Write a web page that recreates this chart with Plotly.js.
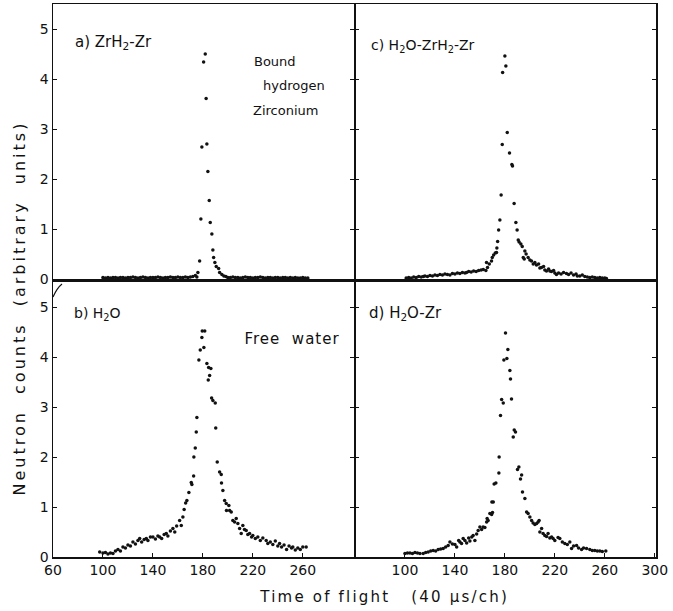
<!DOCTYPE html>
<html>
<head>
<meta charset="utf-8">
<script src="https://cdn.plot.ly/plotly-3.0.1.min.js"></script>
<style>html,body{margin:0;padding:0;background:#fff;}#chart{width:673px;height:611px;}</style>
</head>
<body>
<div id="chart"></div>
<script>
// Panel a) ZrH2-Zr
const aX = [100,102,104,106,108,110,112,114,116,118,120,122,124,126,128,130,132,134,136,138,140,142,144,146,148,150,152,154,156,158,160,162,164,166,168,170,172,174,
  175.2,176,177.4,178.4,179.2,180.6,181.9,182.6,183.2,184,185.1,185.9,187.2,188,188.6,189.6,190.7,192.6,193.4,195.2,196.8,198.4,
  200,202,204,206,208,210,212,214,216,218,220,222,224,226,228,230,232,234,236,238,240,242,244,246,248,250,252,254,256,258,260,262,264];
const aY = [0.03,0.02,0.03,0.02,0.03,0.03,0.02,0.03,0.03,0.02,0.03,0.03,0.04,0.03,0.02,0.03,0.04,0.03,0.02,0.03,0.03,0.03,0.04,0.03,0.02,0.03,0.03,0.04,0.03,0.03,0.04,0.03,0.03,0.04,0.03,0.04,0.05,0.07,
  0.04,0.13,0.36,1.20,2.64,4.34,4.50,3.61,2.70,2.15,1.57,1.13,0.90,0.58,0.43,0.33,0.25,0.21,0.13,0.09,0.06,0.05,
  0.03,0.03,0.04,0.03,0.03,0.02,0.03,0.04,0.03,0.03,0.02,0.03,0.03,0.04,0.03,0.02,0.03,0.03,0.02,0.03,0.03,0.02,0.03,0.03,0.02,0.03,0.02,0.03,0.02,0.02,0.03,0.02,0.02];

// Panel b) H2O
const bX = [97.4,100,102,104,106,108,110,112,114,116,118,120,122,124,126,128,129.4,131,133,134.7,136,138,140,142,144,145.4,147,149,150.7,152,154,156,157.5,159,161.4,162.7,164,165,166.2,167.2,168.8,170.7,171.2,172.6,172.8,173.9,174.7,175.2,
  176.8,177.9,179.2,179.5,180.8,181.5,183.2,184.3,184.6,185.4,186.4,187,188,189.9,190.3,191.5,193.4,194.7,194.9,196,197.4,198.7,198.9,200.8,201.4,202.7,204,205.4,206.7,208,209.4,210.7,212,213.3,214.7,216,217.4,219,220,222,224,226,228,230.7,232,234,236,238,240,241.4,243,245,247,249,251,252,254,256,258,260,262.7];
const bY = [0.10,0.08,0.09,0.06,0.08,0.07,0.12,0.15,0.12,0.20,0.18,0.24,0.22,0.30,0.26,0.33,0.37,0.30,0.35,0.37,0.33,0.40,0.40,0.36,0.42,0.40,0.37,0.45,0.47,0.42,0.52,0.57,0.50,0.62,0.73,0.63,0.80,0.95,1.08,1.13,1.29,1.49,1.45,1.62,2.00,2.18,2.50,2.79,
  3.94,4.14,4.39,4.52,4.19,4.52,3.87,3.54,3.79,3.63,3.77,3.18,3.13,3.08,2.58,1.90,1.70,1.65,1.48,1.33,1.13,1.07,0.93,1.03,0.93,0.90,0.73,0.70,0.77,0.67,0.57,0.47,0.63,0.55,0.53,0.45,0.47,0.40,0.43,0.37,0.40,0.33,0.38,0.33,0.27,0.30,0.25,0.32,0.22,0.27,0.20,0.24,0.15,0.22,0.18,0.20,0.14,0.18,0.15,0.20,0.20];

// Panel c) H2O-ZrH2-Zr
const cX = [101,103,105,107,109,111,113,114.7,116,118,120,122,124,126,128,130,132,134,136,138,140,142,144,146,148,149.3,151,153,155,157,159,161,162.7,164.8,165.3,166.1,167.5,169.3,169.9,171,172.3,173.3,173.6,174.2,175,176,177,177.9,178.2,
  180,180.8,181.9,183.7,185.6,186.1,187.4,188.8,189.8,190.7,191.4,192.8,193.9,194.7,195.5,196,197,198.6,200,201.3,202.7,204,205.3,207,208,209.3,211,212,213.3,215,216,217.3,219,220,221.3,223,225,227,229.3,231,233,235,237,238,240,242,244,246,248,250,252,254,256,258,260,261.3];
const cY = [0.02,0.03,0.02,0.04,0.03,0.05,0.04,0.05,0.06,0.05,0.07,0.06,0.08,0.07,0.09,0.08,0.10,0.09,0.08,0.11,0.10,0.12,0.11,0.13,0.12,0.13,0.15,0.14,0.16,0.15,0.17,0.18,0.19,0.17,0.33,0.23,0.30,0.36,0.43,0.48,0.52,0.53,0.62,0.75,0.98,1.18,1.68,2.69,4.13,
  4.46,4.26,2.93,2.52,2.29,2.26,1.51,1.13,0.98,0.78,0.74,0.70,0.65,0.43,0.40,0.56,0.50,0.43,0.38,0.36,0.30,0.33,0.28,0.30,0.22,0.23,0.25,0.18,0.16,0.20,0.16,0.15,0.17,0.12,0.09,0.12,0.10,0.13,0.11,0.09,0.12,0.08,0.10,0.06,0.06,0.08,0.05,0.04,0.03,0.04,0.03,0.02,0.03,0.02,0.02,0.01];

// Panel d) H2O-Zr
const dX = [100,102,104,106,108,110,112,114.6,116.6,118.6,120.6,122.6,124.6,126.6,128.6,130.6,132.6,134.6,136,138,140,141.4,143,144,145.3,146.6,148,149.4,151,152,153.5,154.6,156,157.4,158.6,160,161.4,162.6,164,165.4,165.8,166.6,168,169.4,169.6,170.1,170.7,171.4,172.8,175.2,175.4,176.5,177.4,178.7,179.2,
  180.5,181.6,182.4,184,184.5,185.3,186.7,187.5,188.5,190.1,191.2,192.5,193.4,194.1,196,197.4,198.6,200,201.4,202.6,204,205.4,206.6,207.4,208,209.4,210.6,212,213.4,214.6,216,217.4,218.6,220,222.6,224,226,228,230,232,233.4,235,237.4,239,241.4,243,245.4,248,250,252,254,256,258,260.8];
const dY = [0.07,0.08,0.08,0.07,0.09,0.08,0.07,0.07,0.09,0.10,0.12,0.13,0.12,0.15,0.16,0.17,0.20,0.23,0.30,0.26,0.25,0.20,0.33,0.30,0.27,0.37,0.33,0.28,0.38,0.32,0.40,0.43,0.33,0.46,0.53,0.60,0.55,0.60,0.59,0.70,0.77,0.73,0.87,0.85,1.10,0.89,1.10,1.46,1.48,1.68,2.00,2.83,3.15,3.08,3.94,
  4.48,3.97,4.15,3.73,3.56,3.16,2.40,2.54,2.50,1.75,1.80,1.56,1.64,1.30,1.17,0.90,0.87,0.80,0.73,0.68,0.65,0.67,0.70,0.73,0.50,0.57,0.47,0.43,0.41,0.47,0.38,0.40,0.37,0.33,0.39,0.37,0.30,0.27,0.25,0.30,0.17,0.22,0.23,0.18,0.15,0.18,0.17,0.15,0.13,0.13,0.12,0.12,0.11,0.12];

const leftTicks = [60,100,140,180,220,260];
const rightTicks = [100,140,180,220,260,300];
const yTicks = [0,1,2,3,4,5];

const W = 673, H = 611, mL = 53, mR = 17, mT = 4, mB = 54;
const pw = W - mL - mR, ph = H - mT - mB;
const px = v => (v - mL) / pw;
const py = v => (H - mB - v) / ph;

const FONT = "DejaVu Sans, Liberation Sans, sans-serif";
const INK = "#111";
const mk = {size: 3.5, color: INK};

function tr(x, y, xa, ya) {
  return {x: x, y: y, type: 'scatter', mode: 'markers', marker: mk, xaxis: xa, yaxis: ya, showlegend: false, hoverinfo: 'skip'};
}

const data = [tr(aX, aY, 'x', 'y'), tr(cX, cY, 'x2', 'y2'), tr(bX, bY, 'x3', 'y3'), tr(dX, dY, 'x4', 'y4')];

const topDom = [py(279), 1];
const botDom = [0, py(282)];
const leftDom = [0, px(354)];
const rightDom = [px(355), 1];

function xax(dom, anchor, ticks, labels) {
  return {domain: dom, anchor: anchor, range: [60, 301], showgrid: false, zeroline: false,
    showline: true, linecolor: INK, linewidth: 1.5, mirror: true,
    tickmode: 'array', tickvals: labels ? ticks : [], ticks: labels ? 'inside' : '', ticklen: 4, tickcolor: INK,
    showticklabels: labels, tickfont: {family: FONT, size: 14, color: INK}};
}
function yax(dom, anchor, labels) {
  return {domain: dom, anchor: anchor, range: [0, 5.5], showgrid: false, zeroline: false,
    showline: true, linecolor: INK, linewidth: 1.5, mirror: 'ticks',
    tickmode: 'array', tickvals: yTicks, ticks: 'inside', ticklen: 4, tickcolor: INK,
    showticklabels: labels, tickfont: {family: FONT, size: 14, color: INK}};
}

function ann(text, x, y, opts) {
  return Object.assign({text: text, xref: 'paper', yref: 'paper', x: px(x), y: py(y), showarrow: false,
    xanchor: 'left', yanchor: 'middle', font: {family: FONT, size: 14, color: INK}}, opts || {});
}

const layout = {
  width: W, height: H,
  margin: {l: mL, r: mR, t: mT, b: mB},
  paper_bgcolor: '#fff', plot_bgcolor: '#fff',
  font: {family: FONT, color: INK},
  xaxis: xax(leftDom, 'y', leftTicks, false),
  yaxis: yax(topDom, 'x', true),
  xaxis2: xax(rightDom, 'y2', rightTicks, false),
  yaxis2: yax(topDom, 'x2', false),
  xaxis3: xax(leftDom, 'y3', leftTicks, true),
  yaxis3: yax(botDom, 'x3', true),
  xaxis4: xax(rightDom, 'y4', rightTicks, true),
  yaxis4: yax(botDom, 'x4', false),
  annotations: [
    ann('a) ZrH<sub>2</sub>-Zr', 73, 43, {font: {family: FONT, size: 15, color: INK}}),
    ann('Bound', 252, 62, {font: {family: FONT, size: 13, color: INK}}),
    ann('hydrogen', 261, 85, {font: {family: FONT, size: 13, color: INK}}),
    ann('Zirconium', 251, 110, {font: {family: FONT, size: 13, color: INK}}),
    ann('c) H<sub>2</sub>O-ZrH<sub>2</sub>-Zr', 369, 46),
    ann('b) H<sub>2</sub>O', 72, 314),
    ann('Free\u00A0\u00A0water', 248, 339, {font: {family: FONT, size: 15, color: INK}}),
    ann('d) H<sub>2</sub>O-Zr', 367, 313, {font: {family: FONT, size: 15, color: INK}}),
    ann('Neutron\u00A0\u00A0counts\u00A0\u00A0(arbitrary\u00A0\u00A0units)', 19, 308, {xanchor: 'center', textangle: -90, font: {family: FONT, size: 16, color: INK}}),
    ann('Time\u00A0of\u00A0flight\u00A0\u00A0\u00A0(40\u00A0μs/ch)', 384, 597, {xanchor: 'center', font: {family: FONT, size: 15, color: INK}})
  ],
  shapes: [
    {type: 'path', xref: 'paper', yref: 'paper',
     path: 'M ' + px(53) + ' ' + py(297) + ' Q ' + px(57) + ' ' + py(288) + ' ' + px(62) + ' ' + py(284),
     line: {color: INK, width: 1.2}}
  ]
};

Plotly.newPlot('chart', data, layout, {staticPlot: true, displayModeBar: false}).then(function (gd) {
  const spacing = {8: '3px', 9: '2.2px', 6: '1px'};
  Object.keys(spacing).forEach(function (i) {
    const t = gd.querySelector('.annotation[data-index="' + i + '"] text');
    if (t) t.style.letterSpacing = spacing[i];
  });
});
</script>
</body>
</html>
